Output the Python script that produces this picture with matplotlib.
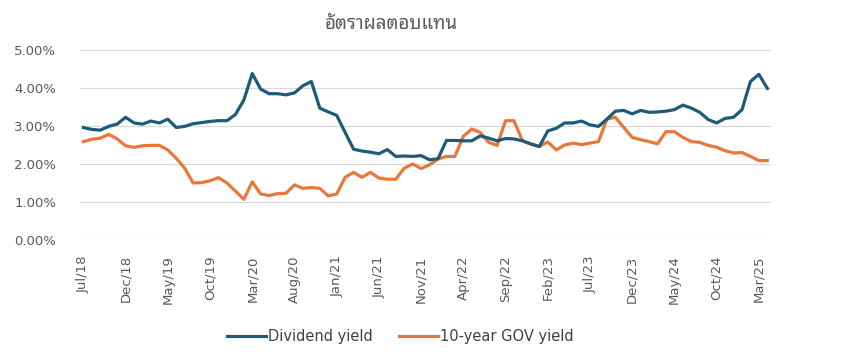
import matplotlib
matplotlib.use("Agg")
import matplotlib.pyplot as plt
from matplotlib import font_manager as fm
from matplotlib.ticker import FuncFormatter, FixedLocator

# ---------------- data ----------------
months = ["Jan", "Feb", "Mar", "Apr", "May", "Jun",
          "Jul", "Aug", "Sep", "Oct", "Nov", "Dec"]
start_year, start_month = 2018, 7  # Jul/18
n_points = 82                     # Jul/18 .. Apr/25
labels = []
for k in range(n_points):
    m = (start_month - 1 + k) % 12
    y = start_year + (start_month - 1 + k) // 12
    labels.append(f"{months[m]}/{y % 100:02d}")

dividend_yield = [
    2.96, 2.91, 2.89, 2.99, 3.05, 3.23, 3.08, 3.05, 3.13, 3.08,
    3.18, 2.96, 2.99, 3.06, 3.09, 3.12, 3.14, 3.14, 3.30, 3.68,
    4.38, 3.97, 3.85, 3.85, 3.82, 3.87, 4.06, 4.17, 3.47, 3.37,
    3.28, 2.83, 2.39, 2.34, 2.31, 2.27, 2.38, 2.20, 2.21, 2.20,
    2.22, 2.11, 2.14, 2.62, 2.62, 2.61, 2.61, 2.74, 2.68, 2.61,
    2.67, 2.66, 2.61, 2.53, 2.46, 2.87, 2.94, 3.08, 3.08, 3.13,
    3.03, 2.99, 3.18, 3.39, 3.41, 3.32, 3.41, 3.36, 3.37, 3.39,
    3.43, 3.55, 3.47, 3.36, 3.17, 3.08, 3.20, 3.23, 3.43, 4.17,
    4.36, 3.99]

gov_yield_10y = [
    2.59, 2.65, 2.68, 2.78, 2.66, 2.48, 2.44, 2.48, 2.49, 2.49,
    2.37, 2.15, 1.89, 1.50, 1.51, 1.56, 1.64, 1.50, 1.29, 1.07,
    1.53, 1.21, 1.17, 1.22, 1.23, 1.45, 1.36, 1.38, 1.36, 1.16,
    1.21, 1.65, 1.78, 1.65, 1.78, 1.63, 1.60, 1.60, 1.89, 2.00,
    1.88, 1.98, 2.13, 2.20, 2.20, 2.73, 2.92, 2.83, 2.57, 2.49,
    3.14, 3.14, 2.61, 2.52, 2.46, 2.58, 2.37, 2.50, 2.55, 2.51,
    2.55, 2.59, 3.18, 3.23, 2.96, 2.70, 2.64, 2.59, 2.53, 2.85,
    2.85, 2.70, 2.59, 2.57, 2.49, 2.44, 2.35, 2.29, 2.30, 2.20,
    2.09, 2.09]

title = "อัตราผลตอบแทน"
series_names = ["Dividend yield", "10-year GOV yield"]
y_ticks = [0, 1, 2, 3, 4, 5]

# ---------------- fonts ----------------
installed = {f.name for f in fm.fontManager.ttflist}
thai_family = "DejaVu Sans"
for cand in ["Noto Sans Thai Looped", "IBM Plex Sans Thai Looped",
             "Noto Sans Thai", "Loma"]:
    if cand in installed:
        thai_family = cand
        break
plt.rcParams["font.family"] = ["DejaVu Sans"]

# ---------------- plot ----------------
fig = plt.figure(figsize=(8.46, 3.63), dpi=100)
ax = fig.add_axes([80 / 846, 1 - 240 / 363, (770.7 - 80) / 846, 190 / 363])

x = list(range(n_points))
blue = "#1D5B79"
orange = "#E8773A"
ax.plot(x, dividend_yield, color=blue, lw=2.3, solid_joinstyle="round",
        label=series_names[0], zorder=3)
ax.plot(x, gov_yield_10y, color=orange, lw=2.3, solid_joinstyle="round",
        label=series_names[1], zorder=2)

ax.set_xlim(-0.4, n_points - 1 + 0.4)
ax.set_ylim(0, 5)
ax.set_yticks(y_ticks)
ax.yaxis.set_major_formatter(FuncFormatter(lambda v, p: f"{v:.2f}%"))
ax.grid(axis="y", color="#D9D9D9", lw=0.9)
ax.set_axisbelow(True)
for s in ax.spines.values():
    s.set_visible(False)

tick_pos = list(range(0, n_points, 5))
ax.xaxis.set_major_locator(FixedLocator(tick_pos))
ax.set_xticklabels([labels[i] for i in tick_pos], rotation=90)
ax.tick_params(axis="both", length=0, labelsize=9.5, labelcolor="#595959")
ax.tick_params(axis="x", pad=11)
ax.tick_params(axis="y", pad=17)

fig.text(391 / 846, 1 - 24 / 363, title, ha="center", va="center",
         fontsize=13.5, color="#595959", family=[thai_family, "DejaVu Sans"])

leg = fig.legend(loc="center", bbox_to_anchor=(400 / 846, 1 - 337 / 363),
                 ncol=2, frameon=False, fontsize=10.5, handlelength=2.7,
                 handletextpad=0.1, columnspacing=1.8)
for t in leg.get_texts():
    t.set_color("#404040")

fig.savefig("out.png", dpi=100)
